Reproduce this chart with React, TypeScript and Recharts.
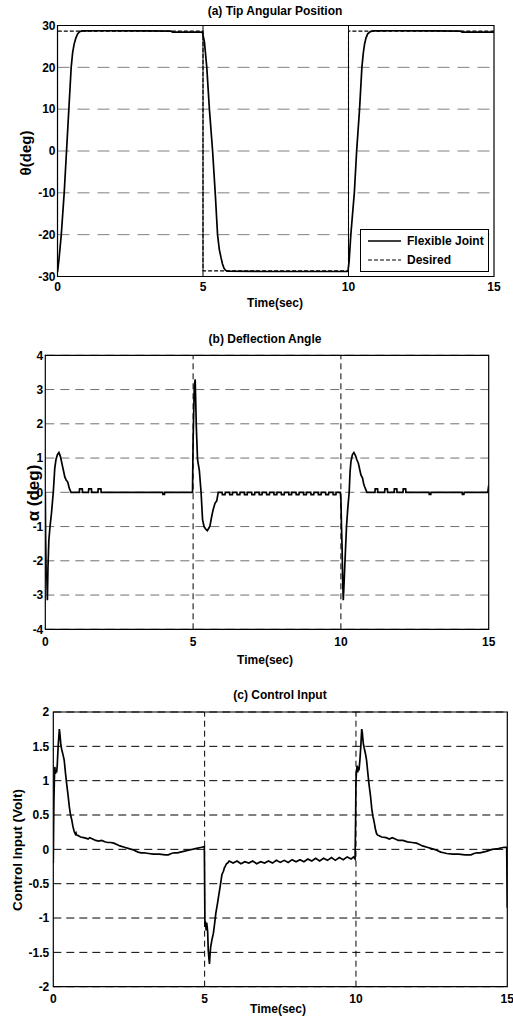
import React from "react";
import { LineChart, Line, XAxis, YAxis, CartesianGrid, ReferenceLine, ReferenceArea } from "recharts";

const FONT = '"Liberation Sans", Arial, sans-serif';

const timeTicks = [0, 5, 10, 15];
const thetaTicks = [-30, -20, -10, 0, 10, 20, 30];
const alphaTicks = [-4, -3, -2, -1, 0, 1, 2, 3, 4];
const voltTicks = [-2, -1.5, -1, -0.5, 0, 0.5, 1, 1.5, 2];

// (a) tip angular position [t, deg]
const thetaPts = [
  [0, -28.9], [0.05, -26], [0.13, -20], [0.23, -10], [0.31, 0], [0.39, 10], [0.47, 20], [0.52, 23.5],
  [0.57, 25.5], [0.63, 27], [0.69, 28], [0.76, 28.5], [0.84, 28.7], [1.5, 28.75], [3.0, 28.7], [3.9, 28.65],
  [3.95, 28.4], [4.98, 28.4], [5.05, 26], [5.13, 20], [5.22, 10], [5.33, 0], [5.42, -10], [5.5, -20],
  [5.56, -23.5], [5.62, -25.5], [5.67, -27], [5.72, -28], [5.77, -28.5], [5.83, -28.75], [7, -28.8],
  [9.98, -28.8], [10.02, -26.5], [10.08, -20], [10.2, -10], [10.28, 0], [10.38, 10], [10.46, 20],
  [10.51, 23.5], [10.55, 25.5], [10.6, 27], [10.66, 28], [10.74, 28.5], [10.86, 28.7], [11.5, 28.75],
  [13.0, 28.7], [13.85, 28.65], [13.9, 28.4], [15, 28.4],
];
const desiredPts = [
  [0, -28.65], [0, 28.65], [5, 28.65], [5, -28.65], [10, -28.65], [10, 28.65], [15, 28.65],
];

// (b) deflection angle [t, deg]
const alphaPts = [
  [0, 0], [0.01, -1.2], [0.03, -2.5], [0.05, -2.4], [0.07, -3.15], [0.09, -2.2], [0.12, -1.4], [0.16, -1.0],
  [0.21, -0.6], [0.27, 0], [0.32, 0.7], [0.36, 0.95], [0.41, 1.1], [0.46, 1.16], [0.51, 1.05], [0.56, 0.85],
  [0.61, 0.65], [0.66, 0.45], [0.71, 0.35], [0.76, 0.3], [0.81, 0.12], [0.87, 0],
  [1.15, 0], [1.16, 0.1], [1.25, 0.1], [1.26, 0], [1.46, 0], [1.47, 0.1], [1.56, 0.1], [1.57, 0],
  [1.78, 0], [1.79, 0.1], [1.88, 0.1], [1.89, 0],
  [3.97, 0], [3.98, -0.06], [4.03, -0.06], [4.04, 0],
  [4.98, 0], [5.0, 1.5], [5.04, 3.1], [5.07, 3.3], [5.09, 2.6], [5.11, 1.9], [5.15, 0.95], [5.21, 0.65],
  [5.27, 0], [5.32, -0.8], [5.37, -1.0], [5.43, -1.08], [5.48, -1.12], [5.53, -1.05], [5.57, -0.98],
  [5.63, -0.7], [5.68, -0.5], [5.74, -0.32], [5.8, -0.25], [5.85, 0],
  [5.98, 0], [5.99, -0.07], [6.08, -0.07], [6.09, 0], [6.23, 0], [6.24, -0.07], [6.33, -0.07], [6.34, 0],
  [6.48, 0], [6.49, -0.07], [6.58, -0.07], [6.59, 0], [6.73, 0], [6.74, -0.07], [6.83, -0.07], [6.84, 0],
  [6.98, 0], [6.99, -0.07], [7.08, -0.07], [7.09, 0], [7.23, 0], [7.24, -0.07], [7.33, -0.07], [7.34, 0],
  [7.48, 0], [7.49, -0.07], [7.58, -0.07], [7.59, 0], [7.73, 0], [7.74, -0.07], [7.83, -0.07], [7.84, 0],
  [7.98, 0], [7.99, -0.07], [8.08, -0.07], [8.09, 0], [8.23, 0], [8.24, -0.07], [8.33, -0.07], [8.34, 0],
  [8.48, 0], [8.49, -0.07], [8.58, -0.07], [8.59, 0], [8.73, 0], [8.74, -0.07], [8.83, -0.07], [8.84, 0],
  [8.98, 0], [8.99, -0.07], [9.08, -0.07], [9.09, 0], [9.23, 0], [9.24, -0.07], [9.33, -0.07], [9.34, 0],
  [9.48, 0], [9.49, -0.07], [9.58, -0.07], [9.59, 0], [9.73, 0], [9.74, -0.07], [9.83, -0.07], [9.84, 0],
  [9.98, 0], [10.0, -0.2], [10.02, -1.0], [10.04, -1.6], [10.06, -2.6], [10.08, -3.15], [10.1, -2.8],
  [10.13, -2.17], [10.19, -1.0], [10.23, -0.5], [10.28, 0], [10.31, 0.6], [10.34, 0.9], [10.39, 1.1],
  [10.44, 1.16], [10.49, 1.08], [10.54, 0.95], [10.59, 0.85], [10.64, 0.65], [10.68, 0.5], [10.73, 0.42],
  [10.77, 0.25], [10.8, 0.17], [10.88, 0],
  [11.15, 0], [11.16, 0.1], [11.24, 0.1], [11.25, 0], [11.48, 0], [11.49, 0.1], [11.57, 0.1], [11.58, 0],
  [11.8, 0], [11.81, 0.1], [11.89, 0.1], [11.9, 0], [12.1, 0], [12.11, 0.1], [12.19, 0.1], [12.2, 0],
  [12.98, 0], [12.99, -0.06], [13.04, -0.06], [13.05, 0], [14.1, 0], [14.11, -0.06], [14.16, -0.06], [14.17, 0],
  [14.97, 0], [15, 0.2],
];

// (c) control input [t, volt]
const voltPts = [
  [0, -0.2], [0.01, 0.3], [0.02, 0.7], [0.04, 1.1], [0.05, 1.2], [0.07, 1.1], [0.09, 1.15], [0.11, 1.12],
  [0.13, 1.22], [0.16, 1.5], [0.18, 1.62], [0.2, 1.75], [0.22, 1.68], [0.25, 1.52], [0.28, 1.45], [0.32, 1.38],
  [0.36, 1.3], [0.4, 1.12], [0.44, 0.96], [0.49, 0.78], [0.53, 0.62], [0.57, 0.5], [0.61, 0.43], [0.65, 0.33],
  [0.69, 0.26], [0.73, 0.22], [0.75, 0.24], [0.77, 0.21], [0.82, 0.2], [0.9, 0.18], [1.0, 0.17], [1.1, 0.16],
  [1.15, 0.15], [1.2, 0.17], [1.3, 0.15], [1.4, 0.13], [1.5, 0.12], [1.6, 0.13], [1.7, 0.11], [1.8, 0.1],
  [1.9, 0.1], [2.0, 0.09], [2.1, 0.07], [2.2, 0.05], [2.35, 0.03], [2.5, 0.01], [2.65, -0.01], [2.8, -0.04],
  [2.9, -0.05], [3.0, -0.05], [3.15, -0.06], [3.3, -0.07], [3.5, -0.07], [3.7, -0.08], [3.8, -0.08],
  [3.9, -0.06], [4.0, -0.05], [4.1, -0.05], [4.3, -0.03], [4.5, -0.01], [4.7, 0.01], [4.9, 0.03], [4.99, 0.04],
  [5.0, -0.5], [5.01, -1.13], [5.03, -1.05], [5.05, -1.18], [5.07, -1.07], [5.1, -1.2], [5.12, -1.47],
  [5.14, -1.58], [5.16, -1.67], [5.18, -1.52], [5.2, -1.42], [5.24, -1.32], [5.29, -1.22], [5.33, -1.08],
  [5.37, -0.93], [5.42, -0.8], [5.46, -0.69], [5.52, -0.52], [5.57, -0.37], [5.62, -0.32], [5.66, -0.26],
  [5.68, -0.25], [5.72, -0.21], [5.76, -0.2], [5.81, -0.17],
  [5.94, -0.2], [6.07, -0.17], [6.2, -0.21], [6.33, -0.18], [6.46, -0.2], [6.59, -0.17], [6.72, -0.21],
  [6.85, -0.18], [6.98, -0.2], [7.11, -0.17], [7.24, -0.2], [7.37, -0.16], [7.5, -0.19], [7.63, -0.16],
  [7.76, -0.19], [7.89, -0.15], [8.02, -0.18], [8.15, -0.15], [8.28, -0.18], [8.41, -0.14], [8.54, -0.17],
  [8.67, -0.13], [8.8, -0.17], [8.93, -0.13], [9.06, -0.16], [9.19, -0.12], [9.32, -0.16], [9.45, -0.12],
  [9.58, -0.15], [9.71, -0.11], [9.84, -0.14], [9.92, -0.11], [9.97, -0.14],
  [9.99, 0.5], [10.0, 1.0], [10.02, 1.15], [10.04, 1.22], [10.06, 1.12], [10.08, 1.2], [10.1, 1.15],
  [10.13, 1.3], [10.16, 1.5], [10.19, 1.75], [10.21, 1.7], [10.24, 1.55], [10.27, 1.48], [10.31, 1.4],
  [10.35, 1.3], [10.39, 1.12], [10.43, 0.95], [10.48, 0.78], [10.52, 0.6], [10.56, 0.48], [10.6, 0.4],
  [10.64, 0.3], [10.68, 0.23], [10.71, 0.21], [10.75, 0.2], [10.85, 0.18], [11.0, 0.17], [11.1, 0.15],
  [11.2, 0.17], [11.3, 0.15], [11.4, 0.13], [11.55, 0.13], [11.7, 0.11], [11.85, 0.1], [12.0, 0.09],
  [12.1, 0.07], [12.2, 0.05], [12.35, 0.03], [12.5, 0.01], [12.65, -0.01], [12.8, -0.04], [12.9, -0.05],
  [13.0, -0.06], [13.2, -0.07], [13.4, -0.07], [13.6, -0.08], [13.8, -0.08], [13.9, -0.06], [14.0, -0.05],
  [14.1, -0.05], [14.3, -0.03], [14.5, 0.0], [14.7, 0.01], [14.9, 0.03], [14.98, 0.03], [15, -0.85],
];

const toRows = (pts: number[][]) => pts.map(([t, v]) => ({ t, v }));

const tickStyle = { fill: "#000", fontSize: 12, fontWeight: 700, fontFamily: FONT };

function Txt({ x, y, size, rotate, children }: any) {
  return (
    <div
      style={{
        position: "absolute",
        left: x,
        top: y,
        transform: `translate(-50%, -50%)${rotate ? " rotate(-90deg)" : ""}`,
        fontFamily: FONT,
        fontWeight: 700,
        fontSize: size,
        lineHeight: 1,
        whiteSpace: "nowrap",
        color: "#000",
      }}
    >
      {children}
    </div>
  );
}

function Panel({ top, height, margin, yWidth, yMargin, xMargin, domain, ticks, hDash, hColor, vSolid, children }: any) {
  return (
    <div style={{ position: "absolute", left: 0, top }}>
      <LineChart width={513} height={height} margin={margin}>
        <CartesianGrid vertical={false} stroke={hColor} strokeDasharray={hDash} />
        <XAxis
          type="number"
          dataKey="t"
          domain={[0, 15]}
          ticks={timeTicks}
          allowDataOverflow
          axisLine={false}
          tickLine={false}
          tickSize={0}
          tickMargin={xMargin}
          height={20}
          tick={tickStyle}
          interval={0}
        />
        <YAxis
          type="number"
          domain={domain}
          ticks={ticks}
          allowDataOverflow
          axisLine={false}
          tickLine={false}
          tickSize={0}
          tickMargin={yMargin}
          width={yWidth}
          tick={tickStyle}
          interval={0}
        />
        <ReferenceLine x={5} stroke="#000" strokeWidth={1} strokeDasharray={vSolid ? undefined : "6 4"} />
        <ReferenceLine x={10} stroke="#000" strokeWidth={1} strokeDasharray={vSolid ? undefined : "6 4"} />
        <ReferenceArea x1={0} x2={15} y1={domain[0]} y2={domain[1]} fill="none" fillOpacity={0} stroke="#000" strokeWidth={1.2} />
        {children}
      </LineChart>
    </div>
  );
}

export default function App() {
  return (
    <div style={{ position: "absolute", left: 0, top: 0, width: 513, height: 1027, background: "#fff", overflow: "hidden" }}>
      {/* (a) */}
      <Panel
        top={0}
        height={300}
        margin={{ top: 25.5, right: 19, bottom: 3.5, left: 17.5 }}
        yWidth={40}
        yMargin={2}
        xMargin={6}
        domain={[-30, 30]}
        ticks={thetaTicks}
        hDash="12 8"
        hColor="#808080"
        vSolid
      >
        <Line data={toRows(desiredPts)} dataKey="v" type="linear" stroke="#000" strokeWidth={1.1} strokeDasharray="4 2" dot={false} isAnimationActive={false} />
        <Line data={toRows(thetaPts)} dataKey="v" type="linear" stroke="#000" strokeWidth={1.7} dot={false} isAnimationActive={false} />
      </Panel>
      <Txt x={275} y={11} size={12}>(a) Tip Angular Position</Txt>
      <Txt x={275} y={303} size={12}>Time(sec)</Txt>
      <Txt x={25} y={153} size={15} rotate>θ(deg)</Txt>
      <div style={{ position: "absolute", left: 360, top: 229, width: 127, height: 41, border: "1px solid #000", background: "#fff" }}>
        <svg width={127} height={41} style={{ display: "block" }}>
          <line x1={7} x2={40} y1={11} y2={11} stroke="#000" strokeWidth={1.7} />
          <line x1={7} x2={40} y1={30} y2={30} stroke="#000" strokeWidth={1.1} strokeDasharray="4 2" />
          <text x={46} y={15} fontFamily={FONT} fontWeight={700} fontSize={12}>Flexible Joint</text>
          <text x={46} y={34} fontFamily={FONT} fontWeight={700} fontSize={12}>Desired</text>
        </svg>
      </div>

      {/* (b) */}
      <Panel
        top={330}
        height={330}
        margin={{ top: 25.3, right: 24.3, bottom: 10.7, left: 15.3 }}
        yWidth={30}
        yMargin={2}
        xMargin={8}
        domain={[-4, 4]}
        ticks={alphaTicks}
        hDash="9 6"
        hColor="#707070"
      >
        <Line data={toRows(alphaPts)} dataKey="v" type="linear" stroke="#000" strokeWidth={1.7} dot={false} isAnimationActive={false} />
      </Panel>
      <Txt x={265} y={339} size={12}>(b) Deflection Angle</Txt>
      <Txt x={265} y={660} size={12}>Time(sec)</Txt>
      <Txt x={33} y={493} size={17} rotate>α (deg)</Txt>

      {/* (c) */}
      <Panel
        top={680}
        height={347}
        margin={{ top: 32, right: 5.7, bottom: 20.3, left: 13.3 }}
        yWidth={40}
        yMargin={4}
        xMargin={8}
        domain={[-2, 2]}
        ticks={voltTicks}
        hDash="8 5"
        hColor="#000"
      >
        <Line data={toRows(voltPts)} dataKey="v" type="linear" stroke="#000" strokeWidth={1.7} dot={false} isAnimationActive={false} />
      </Panel>
      <Txt x={280} y={695} size={12}>(c) Control Input</Txt>
      <Txt x={278} y={1009} size={12}>Time(sec)</Txt>
      <Txt x={18} y={850} size={13.5} rotate>Control Input (Volt)</Txt>
    </div>
  );
}
